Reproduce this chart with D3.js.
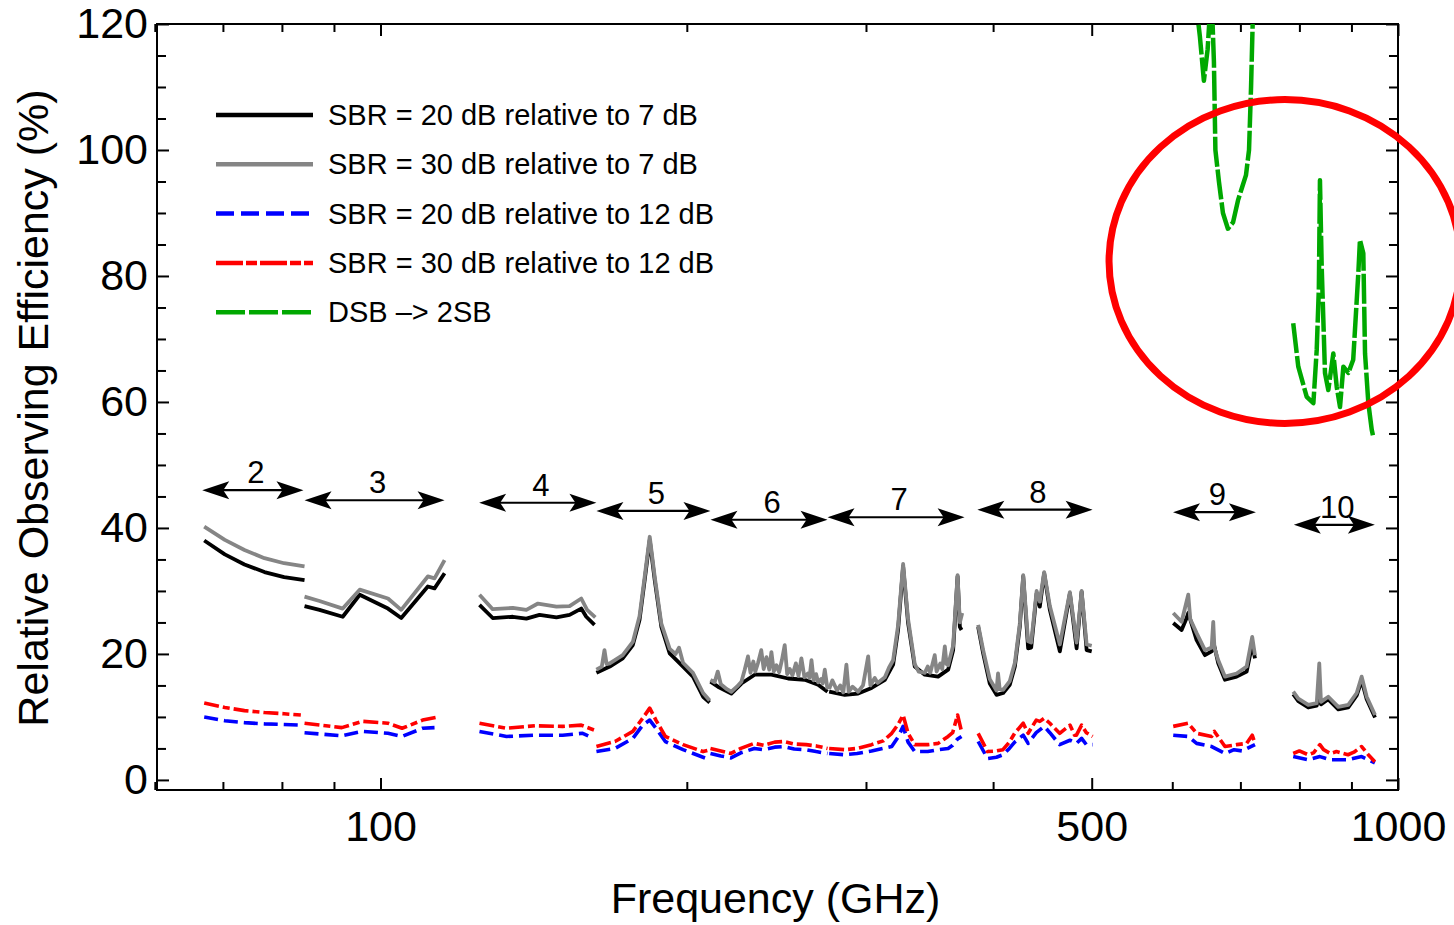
<!DOCTYPE html>
<html>
<head>
<meta charset="utf-8">
<script src="https://cdn.jsdelivr.net/npm/d3@7"></script>
<style>
body { margin: 0; background: #fff; }
svg text { font-family: "Liberation Sans", Arial, Helvetica, sans-serif; fill: #000; }
</style>
</head>
<body>
<div id="chart"></div>
<script>
// ALMA bands (GHz) and where the band arrows sit (% level)
var bandNames = ["2", "3", "4", "5", "6", "7", "8", "9", "10"];
var bandLo = [66.8, 84.2, 125, 163, 211, 275, 386, 601, 790];
var bandHi = [84.0, 115.6, 163, 211, 275, 375, 501, 725, 949];
var arrowLevel = [46.0, 44.4, 44.0, 42.7, 41.3, 41.7, 42.9, 42.5, 40.5];

var xMajor = [100, 500, 1000];
var xMinor = [60, 70, 80, 90, 200, 300, 400, 600, 700, 800, 900];
var yMajor = [0, 20, 40, 60, 80, 100, 120];
var yMinor = [5, 10, 15, 25, 30, 35, 45, 50, 55, 65, 70, 75, 85, 90, 95, 105, 110, 115];

var seriesNames = ["SBR = 20 dB relative to 7 dB", "SBR = 30 dB relative to 7 dB",
    "SBR = 20 dB relative to 12 dB", "SBR = 30 dB relative to 12 dB", "DSB \u2013> 2SB"];

// each series: one [freq GHz, efficiency %] list per band
var sbr20rel7 = [
  [[67.1,38.0],[70.3,35.8],[73.5,34.2],[76.9,33.0],[80.4,32.2],[84.2,31.7]],
  [[84.2,27.6],[87.1,27.0],[91.8,25.9],[95.4,29.4],[101.7,27.2],[104.8,25.7],[111.3,30.7],[113.0,30.4],[115.6,32.8]],
  [[125.1,27.8],[128.9,25.7],[134.9,25.9],[139.1,25.6],[143.3,26.2],[148.9,25.8],[153.4,26.2],[157.5,27.2],[159.3,25.9],[162.3,24.6]],
  [[163,17.0],[168,18.0],[173,19.3],[177,21.4],[179.7,25.4],[181.8,31.7],[183.9,38.1],[186,31.7],[188.8,24.3],[192.4,20.1],[198.3,18.0],[202.8,16.4],[207.5,13.2],[210.6,12.3]],
  [[211,15.6],[214.6,14.8],[221.2,13.7],[226.3,15.3],[233.2,16.7],[242.2,16.7],[251.5,16.1],[261.2,15.9],[269.2,15.1],[275,14.0]],
  [[276,14.0],[285.9,13.5],[294.7,13.7],[303.8,14.6],[313.1,15.9],[319,18.3],[322.6,23.8],[326.3,33.9],[330,24.9],[335,18.0],[342.7,16.7],[353.2,16.4],[361.3,17.5],[365.4,20.6],[369.1,32.3],[371,24.3],[372.4,23.8]],
  [[386.7,24.3],[391.1,20.1],[397,15.3],[403.1,13.5],[409.2,13.8],[415.4,15.1],[420.2,18.0],[424.9,24.3],[428.2,32.3],[433,20.9],[436,21.0],[441.4,29.6],[444.6,27.5],[449,32.8],[454.8,27.0],[465.2,20.4],[475.9,29.6],[483.2,20.9],[488.7,29.9],[494.3,20.6],[500,20.4]],
  [[601.3,24.9],[612.8,23.8],[619.8,25.7],[622.1,26.5],[634,22.2],[646,19.8],[655.9,20.4],[658.3,22.0],[665.8,18.5],[676,15.9],[694.1,16.4],[710,17.2],[719,21.5],[723.5,19.3]],
  [[788.9,13.6],[798,12.5],[816.2,11.5],[832,11.8],[836.8,14.0],[840,12.0],[854.1,12.8],[873.6,11.2],[893.6,11.5],[910.8,13.4],[921.1,15.8],[931.6,12.8],[949.3,9.9]]
];

var sbr30rel7 = [
  [[67.1,40.2],[70.3,38.1],[73.5,36.5],[76.9,35.2],[80.4,34.4],[84.2,33.9]],
  [[84.2,29.1],[87.1,28.4],[91.8,27.2],[95.4,30.2],[101.7,28.8],[104.8,27.0],[111.3,32.3],[113.0,32.0],[115.6,34.9]],
  [[125.1,29.4],[128.9,27.1],[134.9,27.3],[139.1,27.0],[142.8,28.0],[148.9,27.5],[153.4,27.6],[157.5,28.8],[159.6,27.0],[162.6,25.8]],
  [[163,17.5],[165,18.0],[166,20.6],[166.8,18.4],[168,18.5],[173,19.8],[177,21.9],[179.7,26.0],[181.8,32.2],[183.9,38.6],[186,32.2],[188.8,24.8],[192.4,20.8],[195,20.0],[196.5,21.0],[198.3,18.6],[202.8,17.0],[207.5,13.8],[210.6,12.6]],
  [[211,15.9],[213,15.5],[214.5,17.2],[216,15.2],[219,14.4],[221.2,14.0],[224,14.8],[226.3,15.6],[228,17.5],[229.7,19.6],[231,17.0],[232.5,18.8],[233.5,17.2],[235,18.6],[236.7,20.6],[238,17.6],[239.5,19.5],[241,17.5],[242.2,20.3],[243.5,17.2],[245,18.2],[246.5,17.1],[248,19.0],[249.6,21.4],[251,16.8],[252.5,17.6],[254,16.6],[256,18.5],[257.5,16.5],[259.2,19.3],[261,16.3],[263,16.9],[264,16.2],[265.2,19.0],[266.5,15.8],[268,16.8],[269.2,15.5],[271,16.0],[272,15.3],[273.3,17.5],[275,14.4]],
  [[276,14.4],[278,15.8],[281,14.2],[283,15.0],[285,13.9],[287,18.3],[288.5,14.0],[291,14.8],[294.7,14.0],[298,15.0],[301.5,19.6],[303,15.0],[306,16.2],[308,15.4],[313.1,16.3],[316,17.8],[319,19.0],[322.6,24.5],[326.3,34.3],[330,25.5],[335,18.4],[338,17.2],[342.7,17.0],[345,18.0],[347,17.0],[350.5,19.8],[352,17.2],[355,18.5],[356.5,17.6],[358.6,21.2],[360,18.4],[361.3,18.2],[363,19.5],[365.4,21.3],[369.1,32.5],[371,25.0],[373,26.5]],
  [[386.7,24.6],[391.1,20.6],[397,16.0],[403.1,14.2],[404.5,16.9],[406,14.4],[409.2,14.3],[415.4,15.7],[420.2,18.6],[424.9,24.8],[428.2,32.5],[433,22.0],[436,21.8],[441.4,30.0],[444.6,28.3],[449,33.0],[454.8,27.6],[465.2,21.5],[475.9,29.8],[483.2,21.8],[488.7,30.0],[494.3,21.5],[500,21.3]],
  [[601.3,26.5],[612.8,25.1],[622.1,29.4],[625,25.5],[634,23.3],[646,20.6],[655.9,21.0],[658.3,25.1],[660,21.0],[665.8,19.0],[676,16.4],[694.1,16.9],[710,18.0],[719,22.7],[723.5,19.8]],
  [[788.9,14.0],[798,12.9],[816.2,11.9],[832,12.2],[836.8,18.5],[840,12.4],[854.1,13.2],[873.6,11.6],[893.6,11.9],[910.8,13.8],[921.1,16.4],[931.6,13.2],[949.3,10.3]]
];

var sbr20rel12 = [
  [[67.1,10.0],[70.3,9.4],[73.5,9.1],[76.9,8.9],[80.4,8.8],[83.5,8.7]],
  [[84.2,7.5],[91.6,7.0],[96,7.7],[101.7,7.4],[105,6.9],[110,8.2],[113,8.3]],
  [[125.1,7.7],[133,6.9],[142,7.1],[151,7.1],[158,7.4],[160,7.0]],
  [[163,4.5],[170,5.0],[177,6.6],[181,8.7],[183.9,9.5],[186.5,8.2],[190.5,6.1],[198.3,4.8],[209,3.4]],
  [[211,4.2],[216,3.8],[221,3.5],[226,4.3],[233,5.0],[238,4.8],[244,5.2],[249,5.3],[255,4.9],[262,4.8],[268,4.5],[275,4.2]],
  [[276,4.2],[285.9,4.0],[294,4.2],[303.8,4.6],[312,5.0],[318,5.3],[322.6,6.8],[326.3,8.5],[330,6.0],[335,4.5],[345,4.5],[353.2,4.8],[361.3,5.0],[365,5.5],[369.1,6.5],[372.4,6.9]],
  [[386.7,6.1],[395,3.4],[403,3.6],[409,4.0],[415,5.0],[420,6.0],[428.2,7.1],[433,5.8],[441,7.5],[449,8.5],[454.8,7.5],[465,5.6],[476,6.3],[483,5.8],[488.7,6.6],[494,5.6],[501,5.6]],
  [[601.3,7.1],[622,6.9],[634,5.8],[656,5.3],[676,4.2],[690,4.8],[703,4.6],[723.5,5.6]],
  [[788.9,3.7],[816,3.2],[838,3.7],[858,3.2],[893,3.2],[921,3.7],[949,2.7]]
];

var sbr30rel12 = [
  [[67.1,12.2],[70.3,11.5],[73.5,11.0],[76.9,10.7],[80.4,10.5],[83.5,10.3]],
  [[84.2,9.0],[91.6,8.3],[96,9.3],[101.7,9.0],[105,8.2],[110,9.5],[114,10.0]],
  [[125.1,9.0],[133,8.2],[142,8.6],[151,8.5],[157.5,8.7],[162.3,7.9]],
  [[163,5.3],[170,6.1],[177,7.7],[181,9.8],[183.9,11.4],[186.5,9.5],[190.5,6.9],[198.3,5.6],[207.5,4.5],[211,4.8]],
  [[211,5.0],[216,4.6],[221,4.2],[226,5.0],[233,5.8],[238,5.5],[244,6.0],[249,6.1],[255,5.7],[262,5.6],[268,5.4],[275,5.0]],
  [[276,5.0],[285.9,4.8],[294,5.0],[303.8,5.6],[312,6.2],[318,7.4],[322.6,8.8],[326.3,10.3],[330,7.4],[335,5.6],[345,5.6],[353.2,5.8],[361.3,6.9],[365,7.5],[369.1,10.3],[372.4,7.7]],
  [[386.7,7.4],[395,4.5],[403,4.6],[409,4.8],[415,6.0],[420,7.4],[428.2,9.0],[433,7.4],[441,9.5],[444.6,9.3],[449,9.8],[454.8,9.0],[465,7.4],[476,8.7],[481,7.1],[483,7.1],[488.7,8.7],[494,7.5],[501,6.9]],
  [[601.3,8.5],[622,9.0],[634,7.4],[655.9,6.9],[660,7.7],[676,5.3],[694,5.6],[710,5.8],[719,7.1],[723.5,5.8]],
  [[788.9,4.2],[800,4.6],[816,4.0],[826,4.3],[838,5.6],[845,4.8],[858,4.2],[870,4.5],[893,4.0],[905,4.4],[921,5.3],[935,4.0],[949,2.9]]
];

var dsbTo2sb = [
  [[601.3,135],[631.5,125],[638.7,118],[644.5,111],[650,116],[654,123],[657,121],[659.3,114],[661.5,100],[666.8,95],[672.9,90],[680.5,87.5],[688.4,88.5],[696.2,92],[702.5,94],[708.9,96],[713.8,100],[717.1,110],[720.2,122],[724,135]],
  [[788.9,72.5],[798,65.6],[813.4,60.8],[825.7,59.8],[832,68.3],[836,78],[838.1,95.2],[841.4,81.5],[847.7,64.6],[854.1,61.9],[863.8,67.7],[870.5,62.4],[877,59.2],[883.7,65.6],[893.6,64.6],[903.6,66.7],[914.1,80.4],[917.5,85.7],[924.5,83.6],[928.1,67.7],[935.1,59.8],[942.3,55.6],[945.7,54.4]]
];

// red ring drawn round the band 9/10 DSB curve (freq GHz / %)
var ringLeft = 520, ringCenter = 774, ringTop = 108, ringBottom = 56.6;

var width = 1454, height = 925;
var plot = { left: 157, right: 1398, top: 24, bottom: 790 };

var svg = d3.select("#chart").append("svg")
    .attr("width", width)
    .attr("height", height);

var x = d3.scaleLog().domain([60.3, 1000]).range([plot.left, plot.right]);
var y = d3.scaleLinear().domain([-1.6, 120]).range([plot.bottom, plot.top]);

svg.append("clipPath").attr("id", "clip")
    .append("rect")
    .attr("x", plot.left).attr("y", plot.top)
    .attr("width", plot.right - plot.left)
    .attr("height", plot.bottom - plot.top);

// ticks, all pointing inward
function styleAxis(g) {
    g.select(".domain").remove();
    g.selectAll(".tick line").attr("stroke", "#000").attr("stroke-width", 2);
    g.selectAll(".tick text").style("font-size", "43px").attr("fill", "#000");
}

svg.append("g").attr("transform", "translate(0," + plot.bottom + ")")
    .call(d3.axisBottom(x).tickValues(xMajor).tickFormat(d3.format("d"))
        .tickSizeInner(-12).tickSizeOuter(0).tickPadding(20))
    .call(styleAxis);
svg.append("g").attr("transform", "translate(0," + plot.bottom + ")")
    .call(d3.axisBottom(x).tickValues(xMinor).tickFormat("").tickSizeInner(-8).tickSizeOuter(0))
    .call(styleAxis);
svg.append("g").attr("transform", "translate(0," + plot.top + ")")
    .call(d3.axisTop(x).tickValues(xMajor).tickFormat("").tickSizeInner(-12).tickSizeOuter(0))
    .call(styleAxis);
svg.append("g").attr("transform", "translate(0," + plot.top + ")")
    .call(d3.axisTop(x).tickValues(xMinor).tickFormat("").tickSizeInner(-8).tickSizeOuter(0))
    .call(styleAxis);

svg.append("g").attr("transform", "translate(" + plot.left + ",0)")
    .call(d3.axisLeft(y).tickValues(yMajor).tickFormat(d3.format("d"))
        .tickSizeInner(-12).tickSizeOuter(0).tickPadding(9))
    .call(styleAxis);
svg.append("g").attr("transform", "translate(" + plot.left + ",0)")
    .call(d3.axisLeft(y).tickValues(yMinor).tickFormat("").tickSizeInner(-9).tickSizeOuter(0))
    .call(styleAxis);
svg.append("g").attr("transform", "translate(" + plot.right + ",0)")
    .call(d3.axisRight(y).tickValues(yMajor).tickFormat("").tickSizeInner(-12).tickSizeOuter(0))
    .call(styleAxis);
svg.append("g").attr("transform", "translate(" + plot.right + ",0)")
    .call(d3.axisRight(y).tickValues(yMinor).tickFormat("").tickSizeInner(-9).tickSizeOuter(0))
    .call(styleAxis);

svg.append("rect")
    .attr("x", plot.left).attr("y", plot.top)
    .attr("width", plot.right - plot.left)
    .attr("height", plot.bottom - plot.top)
    .attr("fill", "none")
    .attr("stroke", "#000")
    .attr("stroke-width", 2);

// curves
var allSeries = [sbr20rel7, sbr30rel7, sbr20rel12, sbr30rel12, dsbTo2sb];
var colors = ["#000000", "#858585", "#0000ff", "#ff0000", "#00a800"];
var dashes = [null, null, "14,6", "15,4,7,4", "30,3"];
var widths = [3.8, 3.8, 3.6, 3.6, 4.5];

var line = d3.line()
    .x(function(d) { return x(d[0]); })
    .y(function(d) { return y(d[1]); });

var curves = svg.append("g").attr("clip-path", "url(#clip)");
allSeries.forEach(function(series, i) {
    curves.append("g")
        .attr("class", "series-" + i)
        .selectAll("path")
        .data(series)
        .enter().append("path")
        .attr("d", line)
        .attr("fill", "none")
        .attr("stroke", colors[i])
        .attr("stroke-width", widths[i])
        .attr("stroke-linejoin", "round")
        .attr("stroke-dasharray", dashes[i]);
});

// band arrows with numbers
var arrowHead = "M0,0 L-27,-9 L-21,0 L-27,9 Z";
var bands = svg.append("g").attr("class", "bands");
bandNames.forEach(function(name, i) {
    var x0 = x(bandLo[i]), x1 = x(bandHi[i]), yy = y(arrowLevel[i]);
    bands.append("line")
        .attr("x1", x0 + 10).attr("x2", x1 - 10)
        .attr("y1", yy).attr("y2", yy)
        .attr("stroke", "#000").attr("stroke-width", 2.2);
    bands.append("path").attr("d", arrowHead)
        .attr("transform", "translate(" + x1 + "," + yy + ")");
    bands.append("path").attr("d", arrowHead)
        .attr("transform", "translate(" + x0 + "," + yy + ") rotate(180)");
    bands.append("text")
        .attr("x", (x0 + x1) / 2 + 3)
        .attr("y", yy - 7)
        .attr("text-anchor", "middle")
        .style("font-size", "31px")
        .text(name);
});

// legend
var legend = svg.selectAll(".legend")
    .data(seriesNames)
    .enter().append("g")
    .attr("class", "legend")
    .attr("transform", function(d, i) {
        var yy = 115 + 49.3 * i;
        return "translate(216," + yy + ")";
    });

legend.append("line")
    .attr("x1", 0).attr("x2", 97)
    .attr("y1", 0).attr("y2", 0)
    .attr("stroke", function(d, i) { return colors[i]; })
    .attr("stroke-width", 4.5)
    .attr("stroke-dasharray", function(d, i) {
        return ["", "", "18,7", "27,3,11,3", "29,4"][i] || null;
    });

legend.append("text")
    .attr("x", 112)
    .attr("y", 10)
    .style("font-size", "29px")
    .text(function(d) { return d; });

// axis titles
svg.append("text")
    .attr("x", (plot.left + plot.right) / 2 - 2)
    .attr("y", 913)
    .attr("text-anchor", "middle")
    .style("font-size", "43px")
    .text("Frequency (GHz)");

svg.append("text")
    .attr("transform", "translate(48,408) rotate(-90)")
    .attr("text-anchor", "middle")
    .style("font-size", "43px")
    .text("Relative Observing Efficiency (%)");

// red ring
var rx = x(ringCenter) - x(ringLeft);
svg.append("ellipse")
    .attr("cx", x(ringCenter))
    .attr("cy", (y(ringTop) + y(ringBottom)) / 2)
    .attr("rx", rx)
    .attr("ry", (y(ringBottom) - y(ringTop)) / 2)
    .attr("fill", "none")
    .attr("stroke", "#ff0000")
    .attr("stroke-width", 7);
</script>
</body>
</html>
